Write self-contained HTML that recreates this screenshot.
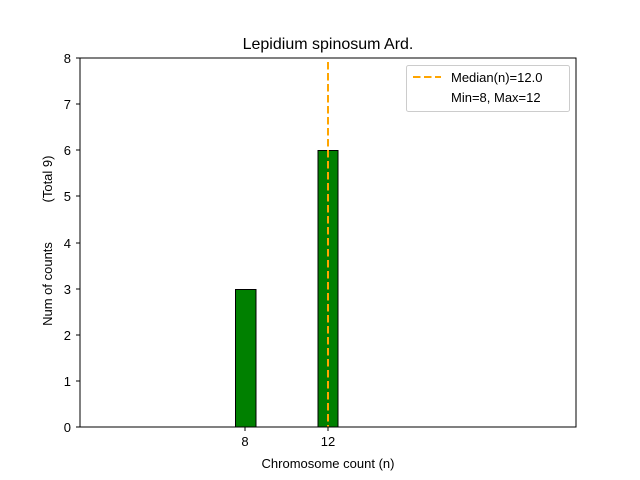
<!DOCTYPE html>
<html><head><meta charset="utf-8"><style>body{margin:0;background:#fff}svg{display:block}</style></head>
<body>
<svg width="640" height="480" xmlns="http://www.w3.org/2000/svg" font-family="Liberation Sans, DejaVu Sans, sans-serif">
<rect width="640" height="480" fill="#fff"/>
<text x="328" y="49" font-size="16" text-anchor="middle">Lepidium spinosum Ard.</text>
<line x1="80" y1="427" x2="400" y2="427" stroke="#000" stroke-width="1"/>
<rect x="235.5" y="289.5" width="20.5" height="137.5" fill="green" stroke="#000" stroke-width="1"/>
<rect x="318" y="150.5" width="20" height="276.5" fill="green" stroke="#000" stroke-width="1"/>
<line x1="328" y1="62" x2="328" y2="427" stroke="#ffa500" stroke-width="2" stroke-dasharray="7.5,3.5"/>
<rect x="80" y="58" width="496" height="369" fill="none" stroke="#000" stroke-width="1"/>
<g font-size="13" text-anchor="end">
<g stroke="#000"><line x1="76" y1="427" x2="80" y2="427"/><line x1="76" y1="381" x2="80" y2="381"/><line x1="76" y1="335" x2="80" y2="335"/><line x1="76" y1="289" x2="80" y2="289"/><line x1="76" y1="243" x2="80" y2="243"/><line x1="76" y1="196" x2="80" y2="196"/><line x1="76" y1="150" x2="80" y2="150"/><line x1="76" y1="104" x2="80" y2="104"/><line x1="76" y1="58" x2="80" y2="58"/></g>
<text x="71" y="432">0</text><text x="71" y="386">1</text><text x="71" y="340">2</text><text x="71" y="294">3</text><text x="71" y="248">4</text><text x="71" y="201">5</text><text x="71" y="155">6</text><text x="71" y="109">7</text><text x="71" y="63">8</text>
</g>
<g stroke="#000"><line x1="245" y1="427" x2="245" y2="431"/><line x1="328" y1="427" x2="328" y2="431"/></g>
<g font-size="13" text-anchor="middle"><text x="245" y="446">8</text><text x="328" y="446">12</text>
<text x="328" y="468">Chromosome count (n)</text></g>
<text transform="translate(52,284) rotate(-90)" font-size="13" text-anchor="middle">Num of counts</text>
<text transform="translate(52,179) rotate(-90)" font-size="13" text-anchor="middle">(Total 9)</text>
<rect x="406.5" y="65.5" width="163" height="46" rx="2" fill="#fff" stroke="#ccc"/>
<line x1="413" y1="77" x2="441" y2="77" stroke="#ffa500" stroke-width="2" stroke-dasharray="7.5,3.5"/>
<g font-size="13"><text x="451" y="82">Median(n)=12.0</text><text x="451" y="102">Min=8, Max=12</text></g>
</svg>
</body></html>
